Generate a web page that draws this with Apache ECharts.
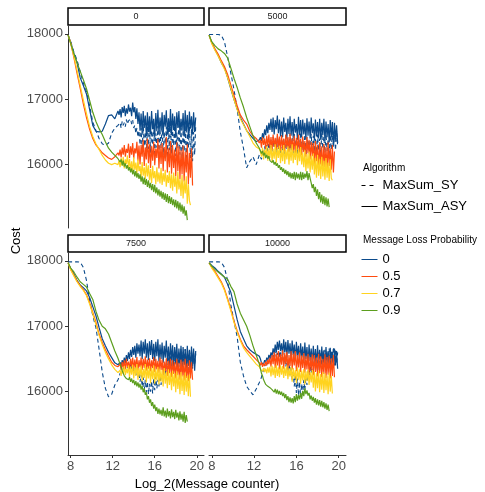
<!DOCTYPE html>
<html>
<head>
<meta charset="utf-8">
<script src="https://cdn.jsdelivr.net/npm/echarts@6/dist/echarts.min.js"></script>
<style>
  html, body { margin: 0; padding: 0; background: #fff; }
  #chart { width: 485px; height: 492px; }
</style>
</head>
<body>
<div id="chart"></div>
<script>
// shared x positions (log2 of message counter)
const X = [7.75, 8.0, 8.3, 8.6, 8.9, 9.2, 9.5, 9.8, 10.1, 10.4, 10.7, 11.0, 11.3, 11.6, 11.9, 12.2, 12.5,
  12.6, 12.7, 12.8, 12.9, 13.0, 13.1, 13.2, 13.3, 13.4, 13.5,
  13.6, 13.7, 13.8, 13.9, 14.0, 14.1, 14.2, 14.3, 14.4, 14.5,
  14.6, 14.7, 14.8, 14.9, 15.0, 15.1, 15.2, 15.3, 15.4, 15.5,
  15.6, 15.7, 15.8, 15.9, 16.0, 16.1, 16.2, 16.3, 16.4, 16.5,
  16.6, 16.7, 16.8, 16.9, 17.0, 17.1, 17.2, 17.3, 17.4, 17.5,
  17.6, 17.7, 17.8, 17.9, 18.0, 18.1, 18.2, 18.3, 18.4, 18.5,
  18.6, 18.7, 18.8, 18.9, 19.0, 19.1, 19.2, 19.3, 19.4, 19.5,
  19.6, 19.7, 19.8, 19.9];

const panelLabels = ['0', '5000', '7500', '10000'];
const lossLevels = ['0', '0.5', '0.7', '0.9'];
const algorithms = ['MaxSum_SY', 'MaxSum_ASY'];
const xTicks = [8, 12, 16, 20];
const yTicks = [16000, 17000, 18000];

// ---- panel "0" ----
const p0_sy0 = [17980, 17880, 17720, 17600, 17420, 17250, 17120, 16900, 16650, 16520, 16400, 16320, 16290, 16330, 16480, 16560, 16600,
  16580, 16640, 16560, 16660, 16600, 16640, 16580, 16690, 16620, 16670,
  16640, 16700, 16620, 16680, 16560, 16600, 16480, 16560, 16420, 16520,
  16300, 16560, 16200, 16620, 16280, 16500, 16150, 16580, 16240, 16600,
  16180, 16520, 16300, 16640, 16120, 16480, 16260, 16590, 16160, 16540,
  16250, 16620, 16140, 16500, 16310, 16580, 16100, 16560, 16220, 16640,
  16170, 16520, 16290, 16600, 16130, 16490, 16240, 16650, 16150, 16560,
  16090, 16530, 16200, 16610, 16060, 16480, 16250, 16580, 16100, 16540,
  16050, 16500, 16150, 16600];
const p0_asy0 = [17980, 17870, 17700, 17560, 17330, 17210, 17080, 16840, 16600, 16510, 16500, 16510, 16620, 16750, 16760, 16700, 16820,
  16760, 16850, 16720, 16880, 16790, 16900, 16740, 16860, 16780, 16920,
  16810, 16870, 16740, 16950, 16800, 16880, 16700, 16860, 16620, 16800,
  16520, 16780, 16480, 16820, 16560, 16750, 16430, 16800, 16500, 16740,
  16460, 16820, 16540, 16700, 16420, 16790, 16510, 16840, 16470, 16720,
  16530, 16800, 16440, 16760, 16580, 16830, 16460, 16710, 16500, 16850,
  16450, 16780, 16530, 16740, 16410, 16800, 16560, 16820, 16480, 16700,
  16520, 16790, 16430, 16830, 16490, 16760, 16420, 16810, 16550, 16740,
  16460, 16800, 16500, 16720];
const p0_asy05 = [17980, 17860, 17640, 17400, 17170, 16930, 16720, 16540, 16400, 16300, 16240, 16180, 16140, 16100, 16080, 16120, 16180,
  16140, 16230, 16110, 16260, 16150, 16300, 16120, 16240, 16180, 16320,
  16100, 16280, 16150, 16330, 16090, 16250, 16170, 16350, 16060, 16290,
  16000, 16300, 16120, 16380, 15980, 16260, 16080, 16400, 16020, 16310,
  15950, 16280, 16060, 16350, 15990, 16240, 16100, 16390, 15940, 16300,
  16010, 16330, 15900, 16270, 16050, 16420, 15880, 16250, 15960, 16360,
  15860, 16300, 15950, 16230, 15820, 16340, 15900, 16280, 15780, 16220,
  15850, 16290, 15740, 16200, 15880, 16310, 15700, 16180, 15800, 16250,
  15680];
const p0_asy07 = [17980, 17850, 17660, 17440, 17210, 16990, 16780, 16580, 16430, 16320, 16230, 16140, 16070, 16020, 16000, 16020, 16000,
  16060, 15960, 16100, 15980, 16120, 15940, 16080, 16010, 16140, 15950,
  16090, 15900, 16050, 15870, 16110, 15920, 16030, 15860, 16080, 15900,
  15980, 15800, 16040, 15830, 15960, 15780, 16020, 15820, 15990, 15760,
  15930, 15720, 15980, 15790, 15900, 15700, 15960, 15740, 15880, 15710,
  15950, 15690, 15870, 15740, 15920, 15660, 15840, 15720, 15900, 15640,
  15850, 15600, 15880, 15660, 15820, 15560, 15890, 15620, 15780, 15520,
  15840, 15480, 15760, 15560, 15820, 15400, 15700, 15450, 15380];
const p0_asy09 = [17980, 17850, 17700, 17560, 17430, 17300, 17160, 16980, 16800, 16660, 16550, 16460, 16350, 16250, 16190, 16140, 16090,
  16100, 16040, 16080, 15990, 16060, 15970, 16020, 15940, 15990, 15910,
  15960, 15880, 15940, 15850, 15920, 15820, 15900, 15800, 15870, 15780,
  15850, 15740, 15820, 15700, 15800, 15690, 15780, 15660, 15760, 15640,
  15720, 15610, 15700, 15580, 15690, 15560, 15650, 15530, 15620, 15510,
  15600, 15480, 15580, 15460, 15560, 15430, 15550, 15410, 15520, 15400,
  15500, 15380, 15470, 15350, 15460, 15330, 15440, 15300, 15420, 15280,
  15390, 15250, 15360, 15220, 15300, 15150];

// ---- panel "5000" ----
const p1_sy0 = [17990, 17990, 17990, 17990, 17980, 17880, 17650, 17400, 17150, 16850, 16500, 16250, 15950, 16050, 16120, 16000, 16150,
  16180, 16080, 16220, 16120, 16280, 16160, 16300, 16200, 16340, 16220,
  16380, 16200, 16420, 16250, 16360, 16180, 16440, 16230, 16400, 16170,
  16450, 16220, 16390, 16160, 16460, 16240, 16410, 16190, 16480, 16210,
  16420, 16170, 16470, 16230, 16380, 16150, 16450, 16200, 16490, 16180,
  16400, 16210, 16460, 16140, 16430, 16230, 16380, 16170, 16470, 16200,
  16440, 16190, 16410, 16130, 16460, 16220, 16400, 16160, 16480, 16240,
  16430, 16180, 16470, 16210, 16390, 16150, 16450, 16230, 16500, 16260,
  16460, 16220, 16520, 16280];
const p1_asy0 = [17980, 17870, 17760, 17670, 17560, 17480, 17330, 17160, 17000, 16850, 16720, 16620, 16520, 16460, 16400, 16350, 16380,
  16420, 16360, 16480, 16400, 16540, 16450, 16600, 16480, 16640, 16530,
  16700, 16500, 16720, 16460, 16680, 16540, 16750, 16480, 16690, 16430,
  16660, 16420, 16720, 16500, 16640, 16400, 16700, 16470, 16740, 16440,
  16650, 16410, 16700, 16490, 16620, 16380, 16730, 16450, 16680, 16420,
  16690, 16460, 16640, 16390, 16710, 16440, 16660, 16400, 16720, 16480,
  16630, 16370, 16690, 16430, 16650, 16400, 16700, 16380, 16640, 16450,
  16700, 16360, 16660, 16420, 16620, 16340, 16680, 16410, 16650, 16300,
  16640, 16380, 16600, 16330];
const p1_asy05 = [17980, 17860, 17770, 17690, 17590, 17500, 17380, 17220, 17060, 16900, 16760, 16680, 16620, 16510, 16440, 16400, 16330,
  16380, 16260, 16420, 16300, 16400, 16240, 16440, 16280, 16460, 16250,
  16420, 16220, 16460, 16270, 16410, 16230, 16470, 16250, 16430, 16210,
  16450, 16240, 16400, 16200, 16460, 16260, 16420, 16190, 16470, 16230,
  16400, 16200, 16440, 16160, 16410, 16230, 16460, 16180, 16390, 16140,
  16430, 16190, 16360, 16120, 16420, 16170, 16380, 16080, 16350, 16130,
  16330, 15980, 16360, 16050, 16300, 15940, 16340, 16000, 16280, 15920,
  16320, 15960, 16270, 15900, 16340, 15980, 16250, 15920, 16300, 15880,
  16200];
const p1_asy07 = [17980, 17850, 17750, 17660, 17560, 17460, 17330, 17170, 17000, 16840, 16700, 16610, 16520, 16430, 16330, 16270, 16240,
  16200, 16120, 16260, 16080, 16230, 16140, 16280, 16060, 16250, 16100,
  16300, 16040, 16240, 16090, 16310, 16030, 16260, 16100, 16290, 16020,
  16240, 16050, 16300, 16010, 16230, 16080, 16280, 16000, 16250, 16060,
  16310, 16020, 16220, 16070, 16290, 15990, 16240, 16050, 16270, 16000,
  16180, 15960, 16220, 15900, 16160, 15940, 16200, 15880, 16140, 15920,
  16170, 15850, 16100, 15800, 16150, 15830, 16080, 15780, 16120, 15820,
  16060, 15770, 16100, 15800, 16030, 15750, 16080, 15790, 15760];
const p1_asy09 = [17980, 17880, 17820, 17770, 17740, 17700, 17630, 17480, 17320, 17180, 17020, 16880, 16720, 16580, 16440, 16330, 16250,
  16230, 16170, 16210, 16140, 16180, 16100, 16150, 16090, 16130, 16060,
  16090, 16030, 16070, 16000, 16040, 15980, 16020, 15950, 15990, 15920,
  15960, 15890, 15940, 15860, 15920, 15840, 15900, 15810, 15880, 15790,
  15870, 15780, 15890, 15760, 15880, 15790, 15860, 15770, 15890, 15760,
  15880, 15780, 15860, 15800, 15900, 15760, 15870, 15790, 15720, 15640,
  15700, 15580, 15660, 15520, 15620, 15470, 15580, 15420, 15540, 15400,
  15520, 15380, 15500, 15360, 15480, 15350];

// ---- panel "7500" ----
const p2_sy0 = [17985, 17985, 17985, 17985, 17980, 17900, 17700, 17400, 17160, 16980, 16650, 16300, 16050, 15920, 15960, 16100, 16180,
  16220, 16280, 16250, 16320, 16290, 16360, 16330, 16400, 16360, 16420,
  16380, 16440, 16320, 16400, 16290, 16360, 16250, 16320, 16220, 16300,
  16150, 16260, 16080, 16220, 16020, 16180, 15990, 16150, 15960, 16120,
  16000, 16160, 15970, 16200, 16020, 16230, 16050, 16180, 16080, 16250,
  16100, 16280, 16150, 16320, 16230, 16450, 16300, 16520, 16340, 16560,
  16380, 16600, 16350, 16640, 16400, 16580, 16320, 16620, 16380, 16660,
  16340, 16600, 16400, 16650, 16360, 16580, 16330, 16620, 16390, 16640,
  16350, 16610, 16400, 16580];
const p2_asy0 = [17970, 17880, 17800, 17700, 17630, 17590, 17540, 17440, 17300, 17160, 16980, 16810, 16700, 16600, 16520, 16440, 16410,
  16400, 16450, 16380, 16480, 16420, 16520, 16440, 16560, 16470, 16600,
  16500, 16640, 16530, 16680, 16560, 16700, 16520, 16740, 16580, 16720,
  16540, 16780, 16500, 16760, 16580, 16800, 16520, 16740, 16480, 16770,
  16560, 16790, 16500, 16730, 16470, 16760, 16540, 16800, 16460, 16720,
  16500, 16750, 16440, 16700, 16520, 16780, 16460, 16690, 16420, 16740,
  16480, 16710, 16400, 16680, 16460, 16730, 16380, 16660, 16430, 16700,
  16370, 16680, 16420, 16650, 16340, 16700, 16400, 16640, 16330, 16690,
  16380, 16660, 16320, 16620];
const p2_asy05 = [17970, 17870, 17780, 17690, 17620, 17560, 17480, 17360, 17210, 17060, 16880, 16750, 16640, 16540, 16450, 16400, 16380,
  16350, 16420, 16330, 16450, 16360, 16480, 16340, 16500, 16370, 16460,
  16340, 16500, 16380, 16520, 16330, 16490, 16360, 16530, 16320, 16480,
  16370, 16520, 16330, 16500, 16360, 16540, 16320, 16490, 16350, 16510,
  16310, 16480, 16360, 16530, 16300, 16500, 16340, 16470, 16290, 16520,
  16330, 16490, 16260, 16460, 16310, 16510, 16240, 16470, 16280, 16500,
  16220, 16480, 16270, 16450, 16200, 16500, 16250, 16440, 16180, 16490,
  16230, 16460, 16170, 16500, 16210, 16430, 16160, 16480, 16200, 16450,
  16180];
const p2_asy07 = [17970, 17860, 17770, 17680, 17610, 17550, 17470, 17340, 17190, 17030, 16860, 16720, 16600, 16500, 16410, 16340, 16290,
  16260, 16330, 16240, 16360, 16270, 16390, 16250, 16350, 16280, 16400,
  16220, 16380, 16260, 16410, 16200, 16370, 16240, 16420, 16180, 16360,
  16230, 16400, 16160, 16350, 16210, 16420, 16140, 16370, 16200, 16390,
  16130, 16360, 16190, 16400, 16120, 16340, 16170, 16380, 16110, 16350,
  16150, 16330, 16080, 16360, 16120, 16300, 16050, 16340, 16100, 16290,
  16020, 16320, 16080, 16280, 15990, 16310, 16040, 16260, 15960, 16300,
  16010, 16250, 15950, 16290, 16000, 16240, 15930, 16260, 15920];
const p2_asy09 = [17970, 17890, 17830, 17750, 17680, 17640, 17600, 17500, 17410, 17230, 17090, 17000, 16960, 16880, 16750, 16620, 16510,
  16480, 16420, 16380, 16320, 16300, 16240, 16270, 16200, 16230, 16180,
  16220, 16150, 16200, 16130, 16180, 16100, 16160, 16080, 16140, 16060,
  16120, 16030, 16090, 15990, 16050, 15950, 15990, 15880, 15930, 15830,
  15880, 15780, 15840, 15740, 15800, 15700, 15760, 15660, 15740, 15650,
  15720, 15630, 15760, 15620, 15710, 15600, 15740, 15620, 15700, 15590,
  15730, 15610, 15690, 15580, 15720, 15600, 15680, 15560, 15700, 15570,
  15660, 15540, 15690, 15520, 15640, 15540];

// ---- panel "10000" ----
const p3_sy0 = [17985, 17985, 17985, 17985, 17980, 17900, 17700, 17330, 17080, 16840, 16450, 16240, 16080, 16010, 15950, 16040, 16140,
  16180, 16220, 16280, 16340, 16320, 16400, 16380, 16440, 16420, 16500,
  16480, 16560, 16520, 16600, 16540, 16640, 16560, 16680, 16520, 16620,
  16480, 16600, 16420, 16560, 16380, 16500, 16300, 16460, 16250, 16380,
  16180, 16320, 16080, 16260, 15980, 16200, 15940, 16150, 15920, 16120,
  15960, 16180, 16020, 16240, 16100, 16320, 16200, 16420, 16280, 16480,
  16320, 16540, 16360, 16580, 16300, 16560, 16380, 16600, 16340, 16620,
  16400, 16640, 16360, 16600, 16420, 16660, 16380, 16620, 16440, 16680,
  16400, 16650, 16430, 16600];
const p3_asy0 = [17970, 17930, 17890, 17840, 17800, 17750, 17640, 17520, 17310, 17100, 16920, 16810, 16700, 16640, 16600, 16570, 16540,
  16500, 16440, 16470, 16420, 16480, 16440, 16520, 16470, 16560, 16510,
  16600, 16540, 16660, 16580, 16720, 16600, 16760, 16640, 16780, 16620,
  16740, 16560, 16800, 16600, 16760, 16520, 16790, 16580, 16740, 16500,
  16780, 16560, 16720, 16480, 16760, 16540, 16700, 16460, 16740, 16520,
  16690, 16440, 16750, 16500, 16680, 16420, 16720, 16470, 16660, 16430,
  16700, 16450, 16650, 16400, 16710, 16460, 16640, 16390, 16690, 16440,
  16630, 16380, 16680, 16420, 16620, 16360, 16670, 16410, 16610, 16370,
  16660, 16400, 16620, 16350];
const p3_asy05 = [17970, 17900, 17840, 17760, 17680, 17570, 17420, 17260, 17080, 16930, 16800, 16700, 16640, 16590, 16540, 16490, 16440,
  16400, 16450, 16380, 16430, 16390, 16460, 16400, 16490, 16420, 16520,
  16380, 16560, 16420, 16600, 16360, 16580, 16400, 16620, 16340, 16570,
  16410, 16630, 16350, 16590, 16420, 16610, 16330, 16560, 16390, 16620,
  16340, 16580, 16400, 16620, 16310, 16560, 16370, 16600, 16300, 16550,
  16360, 16590, 16290, 16540, 16340, 16580, 16260, 16530, 16320, 16570,
  16250, 16560, 16300, 16520, 16230, 16580, 16280, 16540, 16220, 16500,
  16270, 16570, 16210, 16530, 16260, 16550, 16200, 16510, 16240, 16560,
  16220];
const p3_asy07 = [17970, 17890, 17820, 17740, 17660, 17550, 17400, 17240, 17060, 16910, 16780, 16670, 16600, 16540, 16480, 16420, 16380,
  16340, 16370, 16310, 16360, 16300, 16350, 16280, 16370, 16290, 16380,
  16230, 16400, 16250, 16380, 16210, 16410, 16240, 16370, 16220, 16400,
  16260, 16390, 16210, 16370, 16240, 16400, 16190, 16360, 16230, 16380,
  16150, 16360, 16200, 16330, 16130, 16370, 16180, 16340, 16120, 16320,
  16170, 16350, 16110, 16310, 16160, 16340, 16100, 16300, 16140, 16330,
  16060, 16310, 16000, 16280, 16050, 16320, 15990, 16270, 16030, 16300,
  15980, 16280, 16020, 16250, 15960, 16290, 16000, 16240, 15970];
const p3_asy09 = [17970, 17920, 17870, 17830, 17790, 17750, 17720, 17610, 17530, 17340, 17200, 17100, 17000, 16860, 16700, 16560, 16420,
  16350, 16280, 16240, 16180, 16170, 16110, 16140, 16080, 16110, 16060,
  16090, 16030, 16060, 15990, 16040, 15970, 16030, 15960, 16010, 15950,
  16000, 15930, 15980, 15900, 15960, 15870, 15930, 15840, 15910, 15830,
  15900, 15820, 15930, 15840, 15960, 15860, 15950, 15880, 15980, 15890,
  16010, 15930, 16050, 15960, 16020, 15940, 15980, 15880, 15940, 15860,
  15920, 15830, 15900, 15800, 15880, 15790, 15870, 15770, 15860, 15760,
  15840, 15740, 15820, 15720, 15800, 15700];

const panels = [
  { sy: p0_sy0, asy: [p0_asy0, p0_asy05, p0_asy07, p0_asy09] },
  { sy: p1_sy0, asy: [p1_asy0, p1_asy05, p1_asy07, p1_asy09] },
  { sy: p2_sy0, asy: [p2_asy0, p2_asy05, p2_asy07, p2_asy09] },
  { sy: p3_sy0, asy: [p3_asy0, p3_asy05, p3_asy07, p3_asy09] }
];

const colors = ['#0b4a8b', '#ff4b0f', '#ffd31f', '#5c9e1e'];
const grids = [
  { left: 68, top: 26, width: 136, height: 202 },
  { left: 209, top: 26, width: 137, height: 202 },
  { left: 68, top: 253, width: 136, height: 202 },
  { left: 209, top: 253, width: 137, height: 202 }
];

function pairs(ys) {
  return ys.map((y, i) => [X[i], y]);
}

const axisGrey = '#4d4d4d';
const xAxes = grids.map((g, i) => {
  const bottom = i >= 2;
  return {
    type: 'value', gridIndex: i, min: 7.74, max: 20.69,
    splitLine: { show: false },
    axisLine: { show: bottom, lineStyle: { color: '#333', width: 1 } },
    axisTick: { show: bottom, customValues: xTicks, length: 3, lineStyle: { color: '#333' } },
    axisLabel: { show: bottom, customValues: xTicks, fontSize: 13, color: axisGrey, margin: 5,
      fontFamily: 'Liberation Sans', formatter: v => String(v) }
  };
});
const yAxes = grids.map((g, i) => {
  const left = i % 2 === 0;
  return {
    type: 'value', gridIndex: i, min: 15030, max: 18120,
    splitLine: { show: false },
    axisLine: { show: left, lineStyle: { color: '#333', width: 1 } },
    axisTick: { show: left, customValues: yTicks, length: 3, lineStyle: { color: '#333' } },
    axisLabel: { show: left, customValues: yTicks, fontSize: 13, color: axisGrey, margin: 5,
      fontFamily: 'Liberation Sans', formatter: v => String(v) }
  };
});

const series = [];
// legend-only entries for the line type
series.push({ name: algorithms[0], type: 'line', data: [], symbol: 'none',
  lineStyle: { color: '#000', type: [4, 4], width: 1 }, itemStyle: { color: '#000' } });
series.push({ name: algorithms[1], type: 'line', data: [], symbol: 'none',
  lineStyle: { color: '#000', width: 1 }, itemStyle: { color: '#000' } });

panels.forEach((p, i) => {
  series.push({
    name: '0 SY', type: 'line', xAxisIndex: i, yAxisIndex: i, data: pairs(p.sy),
    symbol: 'none', silent: true,
    lineStyle: { color: colors[0], width: 1.1, type: [4, 3] }, itemStyle: { color: colors[0] }
  });
  p.asy.forEach((ys, k) => {
    series.push({
      name: lossLevels[k], type: 'line', xAxisIndex: i, yAxisIndex: i, data: pairs(ys),
      symbol: 'none', silent: true,
      lineStyle: { color: colors[k], width: 1.2 }, itemStyle: { color: colors[k] }
    });
  });
});

const graphics = [];
grids.forEach((g, i) => {
  const sy = i < 2 ? 8 : 235;
  graphics.push({ type: 'rect', shape: { x: g.left, y: sy, width: g.width, height: 17 },
    style: { fill: '#fff', stroke: '#000', lineWidth: 1.5 } });
  graphics.push({ type: 'text', x: g.left + g.width / 2, y: sy + 8.5,
    style: { text: panelLabels[i], fontSize: 9, fill: '#1a1a1a', align: 'center', verticalAlign: 'middle', fontFamily: 'Liberation Sans' } });
});
graphics.push({ type: 'text', x: 207, y: 484,
  style: { text: 'Log_2(Message counter)', fontSize: 13, fill: '#000', align: 'center', verticalAlign: 'middle', fontFamily: 'Liberation Sans' } });
graphics.push({ type: 'text', x: 16, y: 241, rotation: Math.PI / 2,
  style: { text: 'Cost', fontSize: 13, fill: '#000', align: 'center', verticalAlign: 'middle', fontFamily: 'Liberation Sans' } });
graphics.push({ type: 'text', x: 363, y: 168,
  style: { text: 'Algorithm', fontSize: 10, fill: '#000', align: 'left', verticalAlign: 'middle', fontFamily: 'Liberation Sans' } });
graphics.push({ type: 'text', x: 363, y: 240,
  style: { text: 'Message Loss Probability', fontSize: 10, fill: '#000', align: 'left', verticalAlign: 'middle', fontFamily: 'Liberation Sans' } });

const legendText = { fontSize: 13, color: '#000', fontFamily: 'Liberation Sans' };
const hideSymbol = { opacity: 0, color: 'transparent', borderWidth: 0 };
const option = {
  animation: false,
  backgroundColor: '#fff',
  grid: grids,
  xAxis: xAxes,
  yAxis: yAxes,
  legend: [
    { data: algorithms, orient: 'vertical', left: 361, top: 179, itemWidth: 16, itemHeight: 12,
      itemGap: 8, padding: 0, selectedMode: false, textStyle: legendText, itemStyle: hideSymbol,
      lineStyle: { width: 1 } },
    { data: lossLevels, orient: 'vertical', left: 361, top: 253, itemWidth: 16, itemHeight: 12,
      itemGap: 4, padding: 0, selectedMode: false, textStyle: legendText, itemStyle: hideSymbol,
      lineStyle: { width: 1 } }
  ],
  graphic: graphics,
  series: series
};

const chart = echarts.init(document.getElementById('chart'));
chart.setOption(option);
</script>
</body>
</html>
